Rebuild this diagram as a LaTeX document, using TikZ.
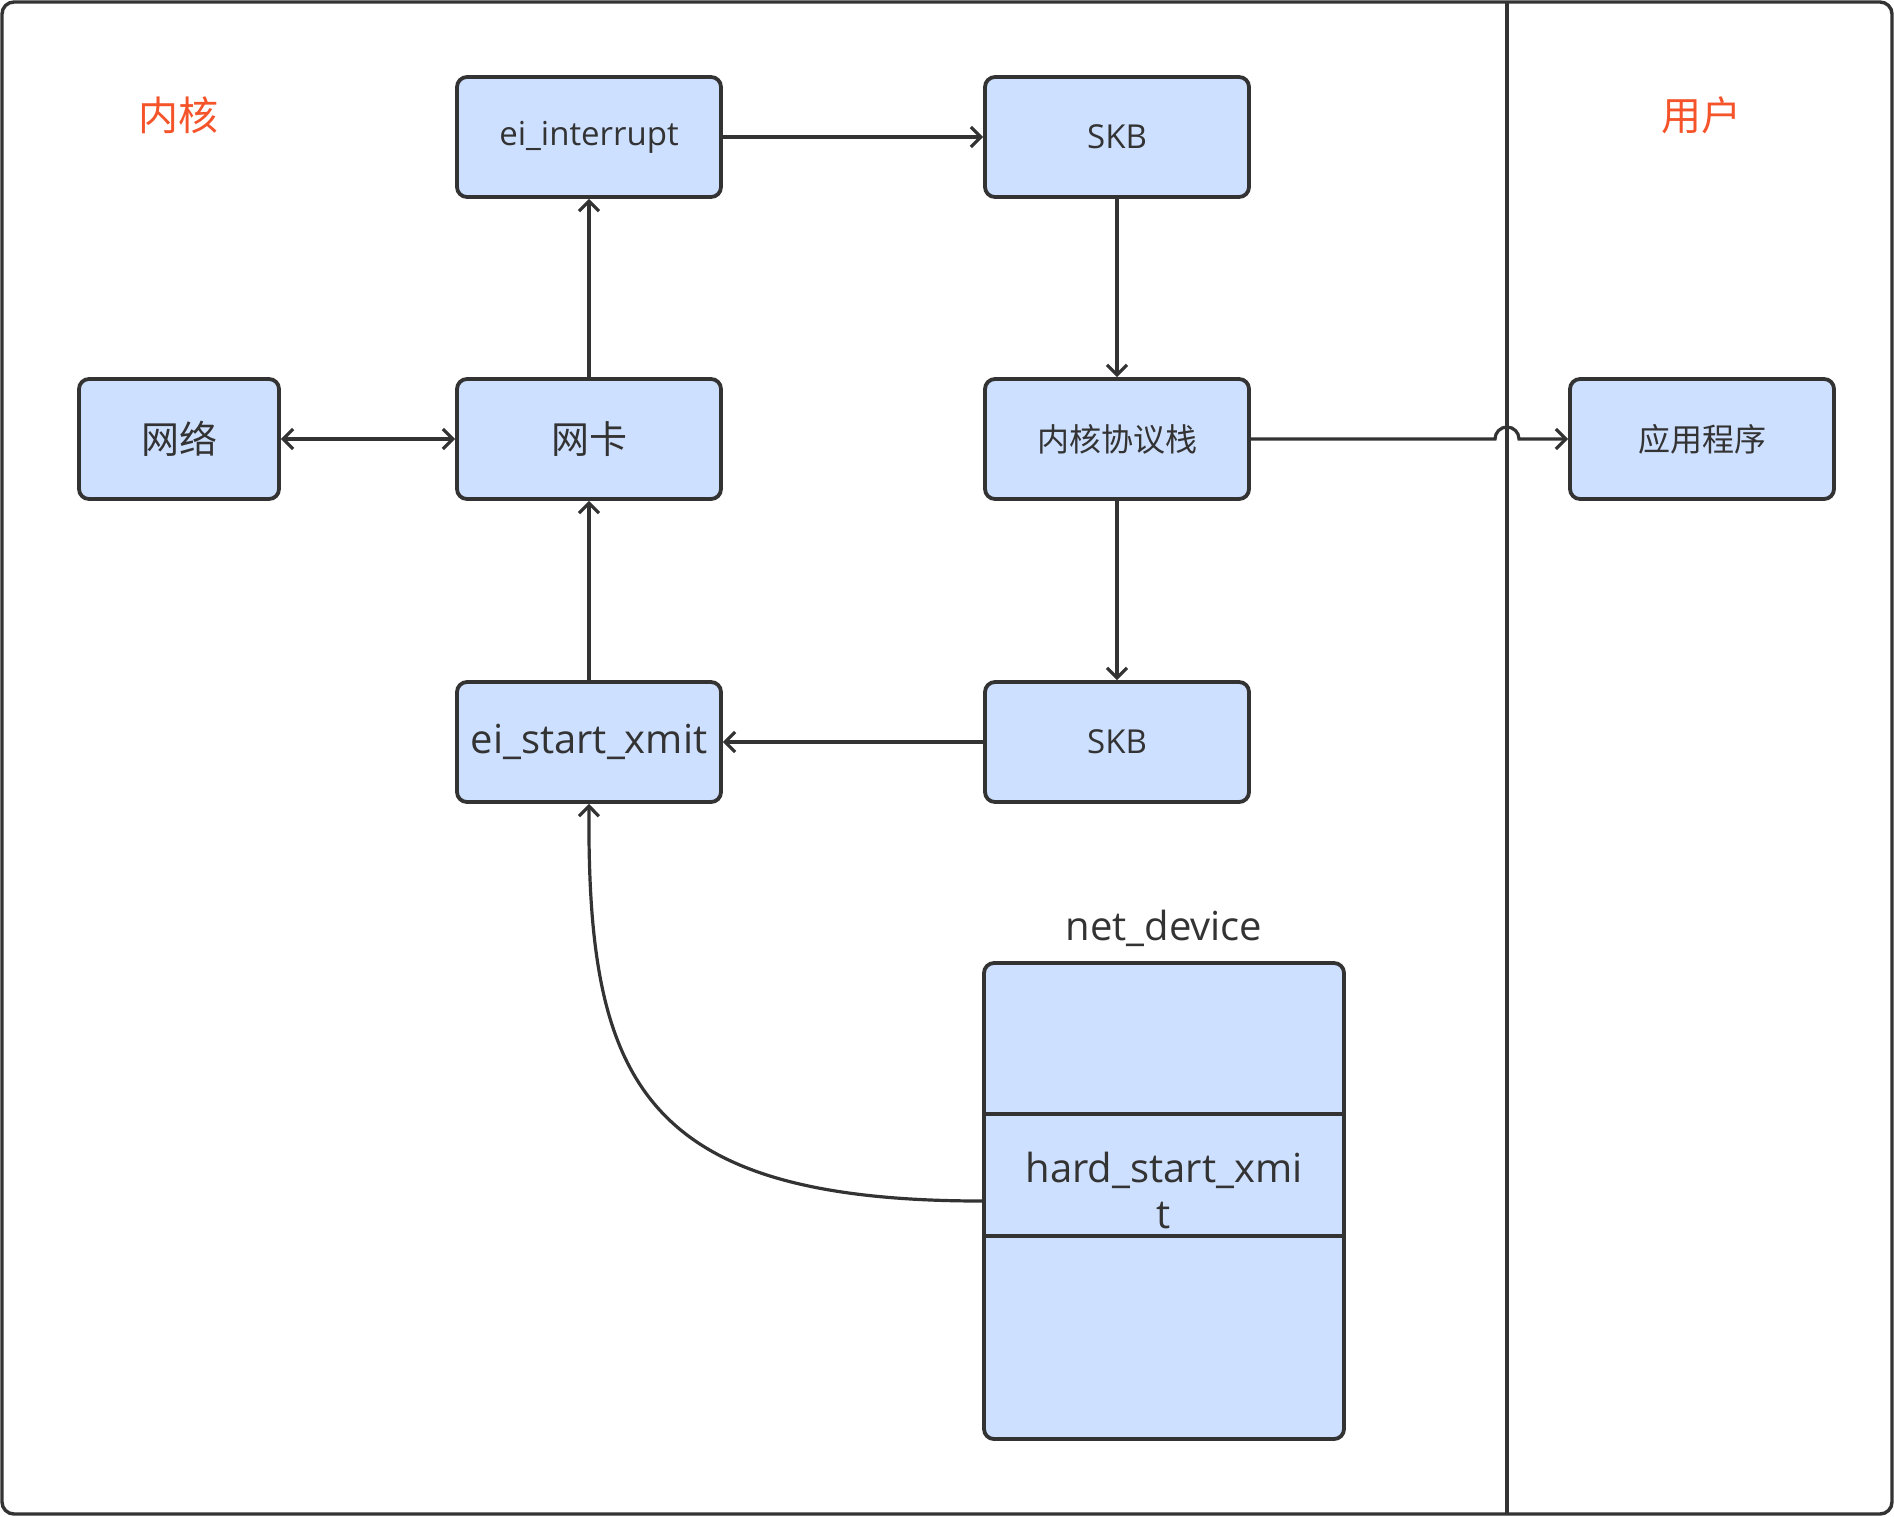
\documentclass[tikz,border=0pt]{standalone}
\usepackage{fontspec}
\setmainfont{Open Sans}
\newfontfamily\cjk{Noto Sans CJK SC}
\usepackage{tikz}
\usetikzlibrary{arrows.meta}

\definecolor{linegray}{RGB}{51,51,51}
\definecolor{boxblue}{RGB}{206,224,255}
\definecolor{labelred}{RGB}{245,83,41}

\tikzset{
    box/.style={draw=linegray, fill=boxblue, line width=1.9pt, rounded corners=5pt,
        minimum width=132pt, minimum height=60pt, inner sep=0pt, text=linegray, align=center},
    link/.style={draw=linegray, line width=1.6pt, -{Straight Barb[length=5pt,width=10pt]}},
    zone/.style={text=labelred, font=\cjk\fontsize{20}{24}\selectfont},
}

\begin{document}
\begin{tikzpicture}[x=0.5pt, y=0.5pt]
    \useasboundingbox (0,0) rectangle (1894,-1516);

    % Draw frame and divider
    \draw[line width=1.7pt, draw=linegray, rounded corners=6pt] (2,-2) rectangle (1892,-1514);
    \draw[line width=1.7pt, draw=linegray] (1507,-2) -- (1507,-1514);

    % Zone labels
    \node[zone] (kernel) at (178,-115) {内核};
    \node[zone] (user) at (1701,-115) {用户};

    % Draw boxes
    \node[box, font=\fontsize{16.5}{20}\selectfont] (irq) at (589,-137) {ei\_interrupt};
    \node[box, font=\fontsize{16.5}{20}\selectfont] (skbin) at (1117,-137) {SKB};
    \node[box, minimum width=100pt, font=\cjk\fontsize{19}{22}\selectfont] (net) at (179,-439) {网络};
    \node[box, font=\cjk\fontsize{19}{22}\selectfont] (nic) at (589,-439) {网卡};
    \node[box, font=\cjk\fontsize{16}{20}\selectfont] (kstack) at (1117,-439) {内核协议栈};
    \node[box, font=\cjk\fontsize{16}{20}\selectfont] (app) at (1702,-439) {应用程序};
    \node[box, font=\fontsize{20}{24}\selectfont] (xmit) at (589,-742) {ei\_start\_xmit};
    \node[box, font=\fontsize{16.5}{20}\selectfont] (skbout) at (1117,-742) {SKB};

    % net_device struct
    \node[box, minimum width=180pt, minimum height=238pt] (netdev) at (1164,-1201) {};
    \node[draw=linegray, fill=boxblue, line width=1.9pt, minimum width=180pt, minimum height=61pt,
        inner sep=0pt] (hsx) at (1164,-1175) {};
    \node[text=linegray, align=center, font=\fontsize{20}{23}\selectfont] (hsxtext) at (1164,-1190) {hard\_start\_xmi\\t};
    \node[text=linegray, font=\fontsize{20}{24}\selectfont] (devname) at (1164,-928) {net\_device};

    % Draw connectors
    \draw[link, {Straight Barb[length=5pt,width=10pt]}-{Straight Barb[length=5pt,width=10pt]}] (net) -- (nic);
    \draw[link] (nic) -- (irq);
    \draw[link] (irq) -- (skbin);
    \draw[link] (skbin) -- (kstack);
    \draw[link] (kstack) -- (skbout);
    \draw[link] (skbout) -- (xmit);
    \draw[link] (xmit) -- (nic);

    % Hop over the divider
    \coordinate (hopin) at (1495,-439);
    \draw[link] (kstack.east) -- (hopin) arc[start angle=180, end angle=0, radius=12] -- (app.west);

    % Callback from net_device
    \draw[link] (netdev.west) .. controls (640,-1201) and (587,-1080) .. (xmit.south);
\end{tikzpicture}
\end{document}
